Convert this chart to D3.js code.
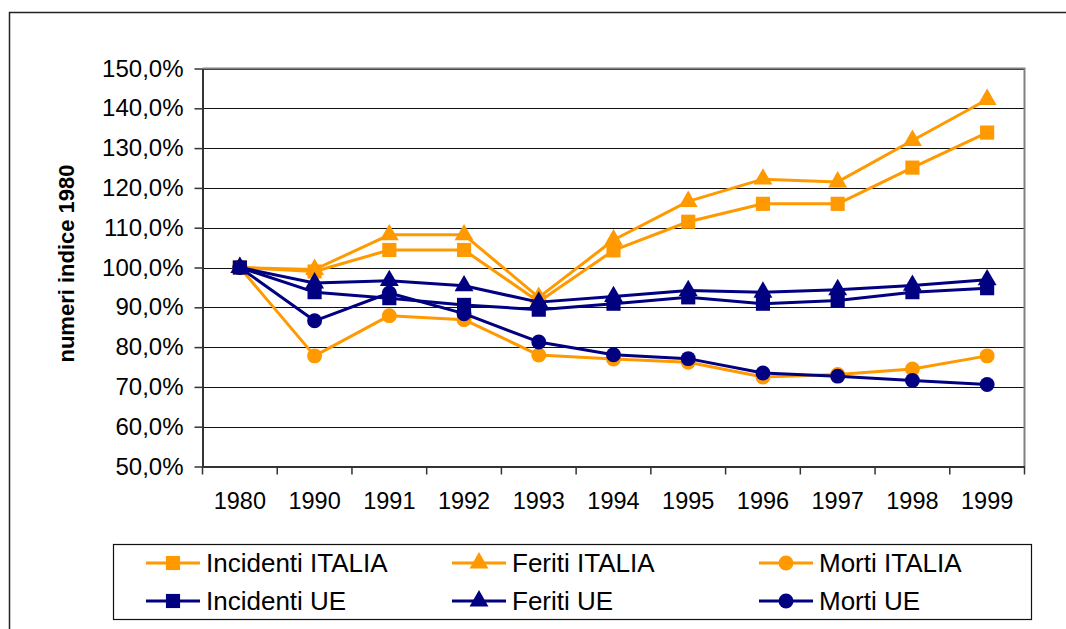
<!DOCTYPE html>
<html>
<head>
<meta charset="utf-8">
<script src="https://cdn.jsdelivr.net/npm/d3@7"></script>
<style>
  html, body { margin: 0; padding: 0; background: #fff; }
  svg { display: block; font-family: "Liberation Sans", Arial, sans-serif; }
</style>
</head>
<body>
<div class="chart"></div>
<script>
// categorie (asse x)
var years = ['1980', '1990', '1991', '1992', '1993', '1994', '1995', '1996', '1997', '1998', '1999'];

// numeri indice 1980 = 100
var incidentiItalia = [100, 99.0, 104.4, 104.4, 91.4, 104.3, 111.5, 116.0, 116.0, 125.1, 133.9];
var feritiItalia    = [100, 99.5, 108.2, 108.2, 92.5, 106.9, 116.6, 122.2, 121.5, 131.9, 142.2];
var mortiItalia     = [100, 77.8, 87.9, 86.9, 78.0, 77.0, 76.2, 72.5, 73.1, 74.5, 77.8];
var incidentiUE     = [100, 93.8, 92.3, 90.6, 89.4, 90.9, 92.5, 90.9, 91.7, 93.8, 94.8];
var feritiUE        = [100, 96.1, 96.7, 95.4, 91.3, 92.7, 94.2, 93.8, 94.4, 95.5, 96.9];
var mortiUE         = [100, 86.6, 93.6, 88.4, 81.3, 78.1, 77.1, 73.5, 72.7, 71.6, 70.6];

var yTicks = [50, 60, 70, 80, 90, 100, 110, 120, 130, 140, 150];

var ORANGE = '#FF9900', NAVY = '#000080';

var series = [
  { name: 'Incidenti ITALIA', values: incidentiItalia, color: ORANGE, symbol: d3.symbolSquare },
  { name: 'Feriti ITALIA',    values: feritiItalia,    color: ORANGE, symbol: d3.symbolTriangle },
  { name: 'Morti ITALIA',     values: mortiItalia,     color: ORANGE, symbol: d3.symbolCircle },
  { name: 'Incidenti UE',     values: incidentiUE,     color: NAVY,   symbol: d3.symbolSquare },
  { name: 'Feriti UE',        values: feritiUE,        color: NAVY,   symbol: d3.symbolTriangle },
  { name: 'Morti UE',         values: mortiUE,         color: NAVY,   symbol: d3.symbolCircle }
];

var width = 1066, height = 629;
var plot = { left: 202.5, right: 1024.5, top: 68.5, bottom: 466.5 };

var svg = d3.select('.chart')
  .append('svg')
  .attr('width', width)
  .attr('height', height);

// cornice esterna del grafico
svg.append('rect')
  .attr('x', 9.5).attr('y', 12.5)
  .attr('width', 1100).attr('height', 700)
  .attr('fill', '#fff')
  .attr('stroke', '#222')
  .attr('stroke-width', 1.5);

var x = d3.scaleBand().domain(years).range([plot.left, plot.right]).padding(0);
var y = d3.scaleLinear().domain([50, 150]).range([plot.bottom, plot.top]);

// griglia orizzontale
svg.append('g')
  .selectAll('line')
  .data(yTicks)
  .enter().append('line')
  .attr('x1', plot.left).attr('x2', plot.right)
  .attr('y1', d => Math.round(y(d)) + 0.5).attr('y2', d => Math.round(y(d)) + 0.5)
  .attr('stroke', '#111')
  .attr('stroke-width', 1);

// bordo dell'area del tracciato
svg.append('path')
  .attr('d', 'M' + plot.left + ',' + plot.top + 'H' + plot.right + 'V' + plot.bottom)
  .attr('fill', 'none')
  .attr('stroke', '#808080')
  .attr('stroke-width', 2);

var fmt = d => d3.format('.1f')(d).replace('.', ',') + '%';

// asse y
var yAxis = svg.append('g')
  .attr('transform', 'translate(' + plot.left + ',0)')
  .call(d3.axisLeft(y).tickValues(yTicks).tickFormat(fmt).tickSize(8).tickPadding(11).tickSizeOuter(0));
yAxis.select('.domain').attr('stroke', '#333').attr('stroke-width', 2);
yAxis.selectAll('.tick line').attr('stroke', '#333').attr('stroke-width', 1.5);
yAxis.selectAll('.tick text')
  .attr('fill', '#000')
  .style('font-size', '24px')
  .style('font-family', '"Liberation Sans", Arial, sans-serif');

// asse x
var xAxis = svg.append('g')
  .attr('transform', 'translate(0,' + plot.bottom + ')')
  .call(d3.axisBottom(x).tickSize(0).tickPadding(26).tickSizeOuter(0));
xAxis.select('.domain').attr('stroke', '#333').attr('stroke-width', 2);
xAxis.selectAll('.tick text')
  .attr('fill', '#000')
  .style('font-size', '23.5px')
  .style('font-family', '"Liberation Sans", Arial, sans-serif');

// tacche tra le categorie
xAxis.selectAll('.sep')
  .data(years.concat(['end']))
  .enter().append('line')
  .attr('class', 'sep')
  .attr('x1', (d, i) => i < years.length ? x(d) : plot.right)
  .attr('x2', (d, i) => i < years.length ? x(d) : plot.right)
  .attr('y1', 0).attr('y2', 8)
  .attr('stroke', '#333')
  .attr('stroke-width', 1.5);

// titolo asse y
svg.append('text')
  .attr('transform', 'translate(66,' + ((plot.top + plot.bottom) / 2 - 4) + ') rotate(-90)')
  .attr('text-anchor', 'middle')
  .attr('dominant-baseline', 'central')
  .style('font-size', '22px')
  .style('font-weight', 'bold')
  .text('numeri indice 1980');

// linee e marcatori
var line = d3.line()
  .x((d, i) => x(years[i]) + x.bandwidth() / 2)
  .y(d => y(d));

var markerSize = { 'Incidenti': 200, 'Feriti': 155, 'Morti': 175 };
function symbolFor(s) {
  var key = s.name.split(' ')[0];
  return d3.symbol().type(s.symbol).size(markerSize[key]);
}

var groups = svg.selectAll('.series')
  .data(series)
  .enter().append('g')
  .attr('class', 'series');

groups.append('path')
  .attr('d', d => line(d.values))
  .attr('fill', 'none')
  .attr('stroke', d => d.color)
  .attr('stroke-width', 3)
  .attr('stroke-linejoin', 'round');

groups.each(function (s) {
  d3.select(this).selectAll('.mark')
    .data(s.values)
    .enter().append('path')
    .attr('class', 'mark')
    .attr('transform', (d, i) => 'translate(' + (x(years[i]) + x.bandwidth() / 2) + ',' + y(d) + ')')
    .attr('d', symbolFor(s))
    .attr('fill', s.color);
});

// legenda
var legendBox = { x: 113.5, y: 544.5, w: 918, h: 75 };
svg.append('rect')
  .attr('x', legendBox.x).attr('y', legendBox.y)
  .attr('width', legendBox.w).attr('height', legendBox.h)
  .attr('fill', '#fff')
  .attr('stroke', '#111')
  .attr('stroke-width', 1.2);

var legendCols = [146, 452, 759];
var legendRows = [563, 601];

var legend = svg.selectAll('.legendCells')
  .data(series)
  .enter().append('g')
  .attr('class', 'legendCells')
  .attr('transform', (d, i) => 'translate(' + legendCols[i % 3] + ',' + legendRows[Math.floor(i / 3)] + ')');

legend.append('line')
  .attr('x1', 0).attr('x2', 54)
  .attr('y1', 0).attr('y2', 0)
  .attr('stroke', d => d.color)
  .attr('stroke-width', 3);

legend.append('path')
  .attr('transform', 'translate(27,0)')
  .attr('d', d => symbolFor(d)())
  .attr('fill', d => d.color);

legend.append('text')
  .attr('x', 60)
  .attr('y', 0)
  .attr('dominant-baseline', 'central')
  .style('font-size', '26px')
  .text(d => d.name);
</script>
</body>
</html>
